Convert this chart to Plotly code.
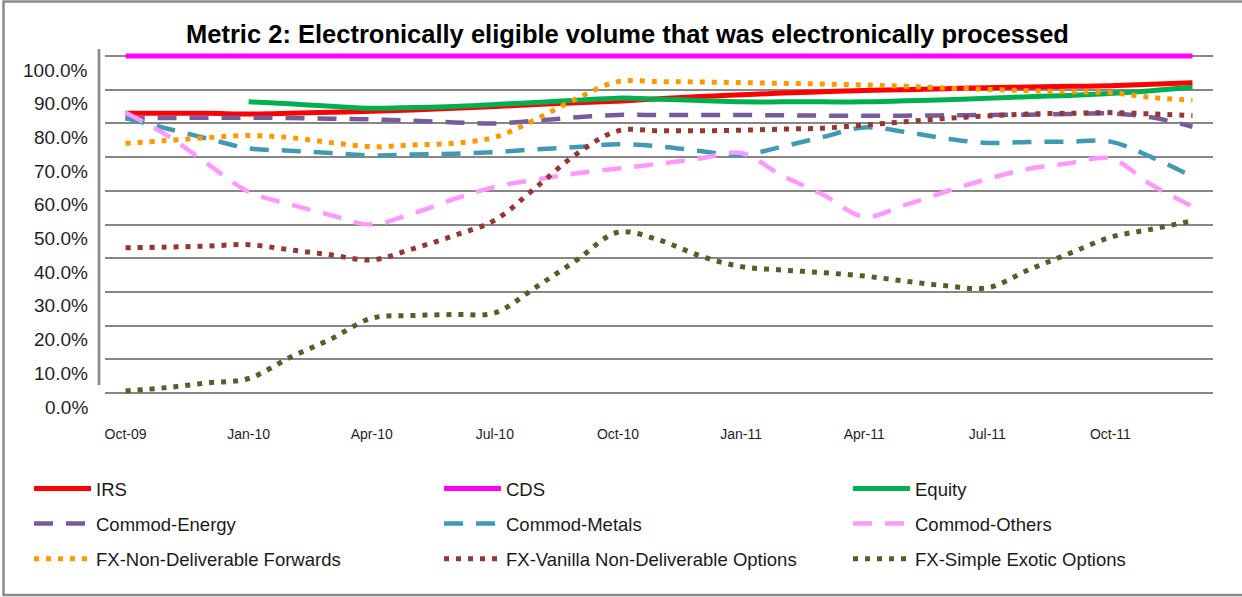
import plotly.graph_objects as go

# ---------------- data ----------------
months = ["Oct-09", "Nov-09", "Dec-09", "Jan-10", "Feb-10", "Mar-10", "Apr-10", "May-10", "Jun-10",
          "Jul-10", "Aug-10", "Sep-10", "Oct-10", "Nov-10", "Dec-10", "Jan-11", "Feb-11", "Mar-11",
          "Apr-11", "May-11", "Jun-11", "Jul-11", "Aug-11", "Sep-11", "Oct-11", "Nov-11", "Dec-11"]
tick_labels = ["Oct-09", "Jan-10", "Apr-10", "Jul-10", "Oct-10", "Jan-11", "Apr-11", "Jul-11", "Oct-11"]
y_ticks = [0, 10, 20, 30, 40, 50, 60, 70, 80, 90, 100]
y_tick_labels = ["0.0%", "10.0%", "20.0%", "30.0%", "40.0%", "50.0%", "60.0%", "70.0%", "80.0%", "90.0%", "100.0%"]

irs = [83.0, 83.0, 83.0, 82.8, 83.0, 83.3, 83.6, 84.0, 84.5, 85.0, 85.6, 86.1, 86.6, 87.3, 88.0,
       88.5, 89.0, 89.4, 89.8, 90.0, 90.3, 90.6, 90.8, 91.0, 91.2, 91.6, 92.1]
cds = [100.0] * 27
equity = [None, None, None, 86.4, 85.8, 85.1, 84.5, 84.7, 85.0, 85.6, 86.2, 86.9, 87.5, 87.2, 86.8,
          86.4, 86.4, 86.4, 86.4, 86.7, 87.0, 87.5, 87.9, 88.3, 88.9, 89.7, 90.7]
commod_energy = [81.5, 81.6, 81.7, 81.7, 81.6, 81.4, 81.2, 80.8, 80.3, 80.0, 80.8, 81.8, 82.5, 82.5, 82.5,
                 82.5, 82.4, 82.3, 82.3, 82.3, 82.4, 82.5, 82.6, 82.8, 83.0, 81.8, 79.0]
commod_metals = [81.6, 78.5, 75.5, 72.6, 71.9, 71.2, 70.5, 70.8, 71.0, 71.5, 72.3, 73.0, 73.8, 73.2, 71.8,
                 70.6, 73.1, 76.0, 78.8, 77.5, 75.5, 74.2, 74.5, 74.6, 74.6, 70.0, 64.2]
commod_others = [83.2, 76.5, 68.0, 59.7, 56.0, 52.8, 50.0, 53.3, 57.5, 61.2, 63.3, 65.2, 66.6, 68.0, 69.6,
                 71.2, 64.5, 58.8, 52.3, 55.8, 59.8, 63.5, 66.5, 68.2, 69.6, 61.8, 55.3]
fx_ndf = [74.1, 74.9, 75.8, 76.4, 75.8, 74.3, 73.1, 73.6, 74.1, 75.9, 81.2, 87.4, 92.4, 92.4, 92.3,
          92.1, 91.9, 91.7, 91.4, 91.0, 90.5, 90.1, 89.7, 89.4, 89.1, 87.7, 86.9]
fx_vanilla = [43.1, 43.3, 43.6, 44.0, 42.5, 41.0, 39.5, 42.8, 46.7, 51.3, 61.0, 71.0, 77.8, 77.8, 77.8,
              78.0, 78.3, 78.6, 79.5, 80.5, 81.5, 82.2, 82.8, 83.0, 83.2, 82.8, 82.3]
fx_exotic = [0.6, 1.6, 3.0, 4.3, 10.5, 16.0, 22.2, 23.0, 23.3, 23.8, 31.4, 39.5, 47.7, 45.4, 40.7,
             37.5, 36.5, 35.7, 34.7, 33.2, 31.8, 31.2, 36.5, 41.4, 46.2, 48.6, 51.1]

series_names = ["IRS", "CDS", "Equity", "Commod-Energy", "Commod-Metals", "Commod-Others",
                "FX-Non-Deliverable Forwards", "FX-Vanilla Non-Deliverable Options", "FX-Simple Exotic Options"]
series_values = [irs, cds, equity, commod_energy, commod_metals, commod_others, fx_ndf, fx_vanilla, fx_exotic]
series_colors = ["#FF0000", "#FF00FF", "#00B050", "#765C9C", "#4299B4", "#FF99FF", "#FF9900", "#953735", "#4F6228"]
series_dash = ["solid", "solid", "solid", "19px,13px", "19px,13px", "19px,13px", "5px,7px", "5px,7px", "5px,7px"]
series_width = [5, 5, 5, 4.5, 4.5, 4.5, 5, 5, 5]
series_legend = ["legend", "legend2", "legend3"] * 3

# ---------------- layout geometry ----------------
W, H = 1242, 597
L, R, T, B = 105, 1213, 49, 396


def px_x(p):
    return (p - L) / (R - L)


def px_y(p):
    return (B - p) / (B - T)


FONT = "Liberation Sans, Arial, sans-serif"

fig = go.Figure()
for name, vals, col, dash, wd, lg in zip(series_names, series_values, series_colors, series_dash,
                                          series_width, series_legend):
    fig.add_trace(go.Scatter(
        x=months, y=vals, name=name, mode="lines",
        line=dict(color=col, width=wd, dash=dash, shape="spline"),
        connectgaps=False, legend=lg, legendgroup=name,
    ))

legend_common = dict(
    orientation="v", xanchor="left", yanchor="top", bgcolor="rgba(0,0,0,0)",
    font=dict(family=FONT, size=18.5, color="#1a1a1a"), itemwidth=57,
    tracegroupgap=8, itemclick=False, itemdoubleclick=False,
)

annotations = []
for v, lab in zip(y_ticks, y_tick_labels):
    annotations.append(dict(
        x=px_x(90), xref="paper", xanchor="right", y=v, yref="y", yanchor="middle",
        yshift=-14, text=lab, showarrow=False,
        font=dict(family=FONT, size=19, color="#1f1f1f"),
    ))

fig.update_layout(
    width=W, height=H,
    margin=dict(l=L, r=W - R, t=T, b=H - B, pad=0),
    paper_bgcolor="white", plot_bgcolor="white",
    title=dict(
        text="<b>Metric 2: Electronically eligible volume that was electronically processed</b>",
        x=627.5 / W, xref="container", xanchor="center",
        y=1 - 34 / H, yref="container", yanchor="middle",
        font=dict(family=FONT, size=25.5, color="#000000"),
    ),
    xaxis=dict(
        type="category", range=[-0.5, 26.5], showgrid=False, showline=False, zeroline=False,
        tickmode="array", tickvals=tick_labels, ticktext=tick_labels, ticks="",
        ticklabelstandoff=28, tickangle=0,
        tickfont=dict(family=FONT, size=14, color="#1f1f1f"),
    ),
    yaxis=dict(
        range=[-0.89, 102.08], tickmode="array", tickvals=y_ticks, showticklabels=False,
        showgrid=True, gridcolor="#878787", gridwidth=2, zeroline=False, showline=False, ticks="",
    ),
    legend=dict(x=px_x(29), y=px_y(470), **legend_common),
    legend2=dict(x=px_x(439), y=px_y(470), **legend_common),
    legend3=dict(x=px_x(848), y=px_y(470), **legend_common),
    annotations=annotations,
    shapes=[
        dict(type="rect", xref="paper", yref="paper", x0=px_x(3.5), x1=px_x(1250),
             y0=px_y(595), y1=px_y(1.5), line=dict(color="#8a8a8a", width=2.5), layer="below"),
        dict(type="line", xref="paper", yref="y", x0=px_x(99), x1=px_x(99), y0=2.4, y1=102.4,
             line=dict(color="#8a8a8a", width=2.7), layer="below"),
    ],
    showlegend=True,
    hovermode=False,
)

fig.write_html(
    "out.html",
    config={"displayModeBar": False, "staticPlot": False},
    post_script="document.body.style.margin='0px';document.body.style.overflow='hidden';",
)
